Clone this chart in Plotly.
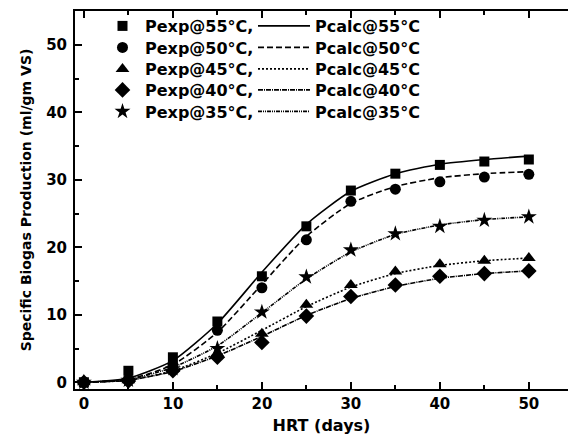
import plotly.graph_objects as go

hrt = [0, 5, 10, 15, 20, 25, 30, 35, 40, 45, 50]

labels = ["55", "50", "45", "40", "35"]

pexp_55 = [0.0, 1.7, 3.7, 9.0, 15.7, 23.1, 28.4, 30.9, 32.2, 32.7, 33.0]
pexp_50 = [0.0, 0.5, 2.6, 7.7, 14.0, 21.1, 26.8, 28.6, 29.7, 30.4, 30.8]
pexp_45 = [0.0, 0.3, 2.0, 4.3, 7.2, 11.5, 14.4, 16.4, 17.5, 18.0, 18.4]
pexp_40 = [0.0, 0.2, 1.7, 3.7, 5.9, 9.8, 12.7, 14.4, 15.7, 16.1, 16.5]
pexp_35 = [0.0, 0.3, 2.0, 5.0, 10.4, 15.6, 19.6, 22.0, 23.1, 24.0, 24.5]

pcalc_55 = [0.0, 0.6, 3.2, 8.7, 16.3, 23.4, 28.3, 30.9, 32.3, 33.0, 33.5]
pcalc_50 = [0.0, 0.4, 2.6, 7.4, 14.5, 21.6, 26.5, 29.0, 30.3, 30.9, 31.2]
pcalc_45 = [0.0, 0.3, 1.7, 4.3, 7.7, 11.2, 14.1, 16.1, 17.3, 18.0, 18.4]
pcalc_40 = [0.0, 0.3, 1.6, 3.9, 6.8, 9.9, 12.4, 14.2, 15.4, 16.1, 16.5]
pcalc_35 = [0.0, 0.4, 2.2, 5.4, 10.3, 15.3, 19.3, 21.9, 23.3, 24.1, 24.5]

pexp = [pexp_55, pexp_50, pexp_45, pexp_40, pexp_35]
pcalc = [pcalc_55, pcalc_50, pcalc_45, pcalc_40, pcalc_35]
symbols = ["square", "circle", "triangle-up", "diamond", "star"]
msizes = [10, 11, 12, 12, 12]
dashes = ["solid", "6px,3px", "2px,2px", "5px,1px,1px,1px", "4px,1px,1px,1px,1px,1px"]

FONT = "DejaVu Sans, sans-serif"

# plot-area geometry (pixels) used to place the per-row legends
PL, PW, PT, PH = 75, 493, 11, 378
row_px = [26, 47.5, 69, 90, 111.5]

fig = go.Figure()
for i, t in enumerate(labels):
    fig.add_trace(go.Scatter(
        x=hrt, y=pcalc[i], mode="lines", name=f"Pcalc@{t}°C",
        line=dict(color="black", width=1.6, dash=dashes[i], shape="spline", smoothing=0.6),
        legend=f"legend{2 * i + 2}", showlegend=True))
for i, t in enumerate(labels):
    fig.add_trace(go.Scatter(
        x=hrt, y=pexp[i], mode="markers", name=f"Pexp@{t}°C,",
        marker=dict(symbol=symbols[i], size=msizes[i], color="black"),
        legend="legend" if i == 0 else f"legend{2 * i + 1}", showlegend=True))

axis_common = dict(
    showline=True, linewidth=2, linecolor="black",
    ticks="inside", ticklen=7, tickwidth=2, tickcolor="black",
    showgrid=False, zeroline=False,
    tickfont=dict(family=FONT, size=15, color="black", weight="bold"),
    minor=dict(ticks="inside", ticklen=4, tickwidth=2, tickcolor="black", dtick=5),
)

fig.update_xaxes(**axis_common, range=[-1, 54.4], dtick=10, mirror="ticks",
                 title=dict(text="HRT (days)", font=dict(family=FONT, size=16, color="black", weight="bold"), standoff=8))
fig.update_yaxes(**axis_common, range=[-1, 55], dtick=10, ticklabelstandoff=3,
                 title=dict(text="Specific Biogas Production (ml/gm VS)", font=dict(family=FONT, size=14, color="black", weight="bold"), standoff=11))

legend_font = dict(family=FONT, size=16, color="black", weight="bold")
legends = {}
for i in range(5):
    yy = 1 - (row_px[i] - PT) / PH
    key_m = "legend" if i == 0 else f"legend{2 * i + 1}"
    key_l = f"legend{2 * i + 2}"
    legends[key_m] = dict(x=(100 - PL) / PW, y=yy, xanchor="left", yanchor="middle",
                          font=legend_font, bgcolor="rgba(0,0,0,0)", itemwidth=35)
    legends[key_l] = dict(x=(253 - PL) / PW, y=yy, xanchor="left", yanchor="middle",
                          font=legend_font, bgcolor="rgba(0,0,0,0)", itemwidth=52)

fig.update_layout(
    width=568, height=438,
    margin=dict(l=PL, r=0, t=PT, b=438 - PT - PH),
    plot_bgcolor="white", paper_bgcolor="white",
    showlegend=True,
    **legends,
)

fig.write_html("out.html")
